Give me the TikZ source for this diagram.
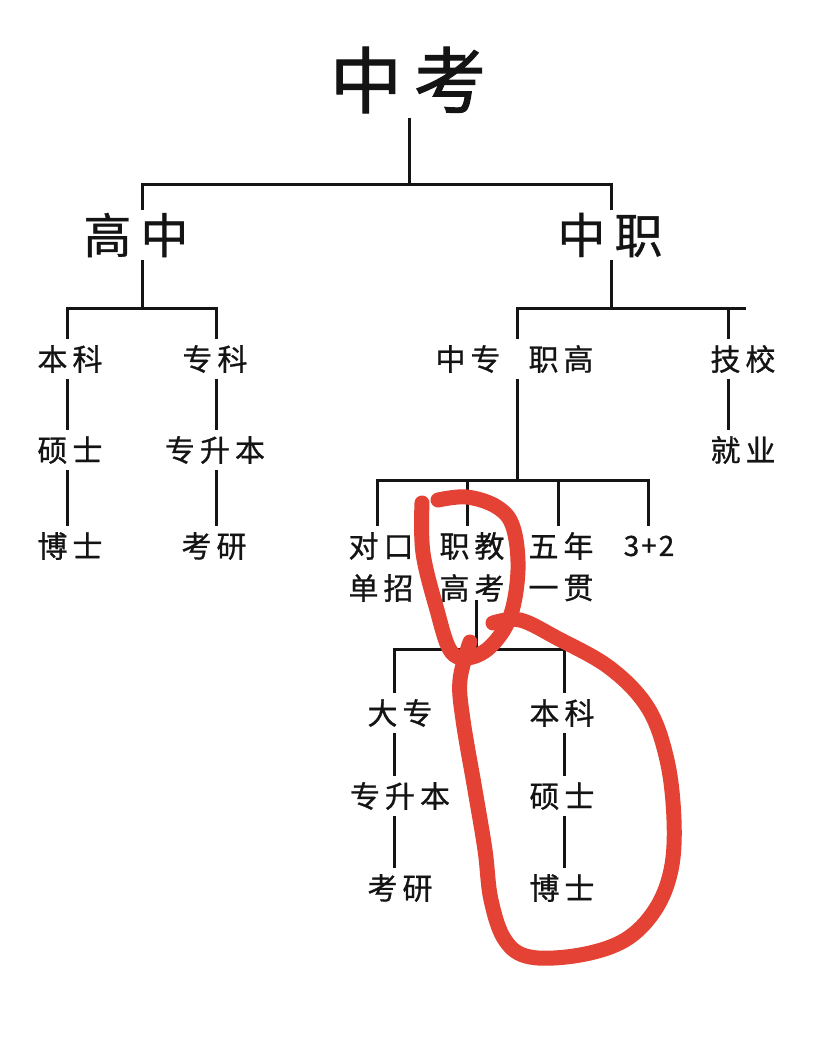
\documentclass[tikz,border=0pt]{standalone}
\usepackage{fontspec}
\newfontfamily\cjk[FakeBold=0.8]{Noto Sans CJK SC}
\newfontfamily\cjkb[FakeBold=1.5]{Noto Sans CJK SC}
\newcommand\gp{\hspace{5pt}}
\definecolor{ink}{HTML}{141414}
\definecolor{redpen}{HTML}{E34234}
\tikzset{x=1pt,y=-1pt,
  lbl/.style={inner sep=0pt,text=ink,minimum height=40pt,font=\cjk\fontsize{30}{30}\selectfont},
  big/.style={inner sep=0pt,text=ink,minimum height=50pt,font=\cjk\fontsize{48}{48}\selectfont},
  huge/.style={inner sep=0pt,text=ink,minimum height=64pt,font=\cjkb\fontsize{72}{72}\selectfont},
  wire/.style={draw=ink,line width=3pt},
  pen/.style={draw=redpen,line width=15pt,line cap=round,line join=round}}
\begin{document}
\begin{tikzpicture}
\useasboundingbox (0,0) rectangle (828,1046);
\fill[white] (0,0) rectangle (828,1046);
\node[huge] (zk) at (408,80) {中\hspace{12pt}考};
\node[big] (gz) at (136,235) {高\hspace{9pt}中};
\node[big] (zz) at (610,235) {中\hspace{9pt}职};
\node[lbl] (bk) at (70,359) {本\gp 科};
\node[lbl] (zk2) at (215,359) {专\gp 科};
\node[lbl] (zzh) at (468,359) {中\gp 专};
\node[lbl] (zg) at (561,359) {职\gp 高};
\node[lbl] (jx) at (743,359) {技\gp 校};
\node[lbl] (ss) at (70,450) {硕\gp 士};
\node[lbl] (zsb) at (215,450) {专\gp 升\gp 本};
\node[lbl] (jy) at (743,450) {就\gp 业};
\node[lbl] (bs) at (70,546) {博\gp 士};
\node[lbl] (ky) at (214,546) {考\gp 研};
\node[lbl] (dk) at (381,546) {对\gp 口};
\node[lbl] (dz) at (381,588) {单\gp 招};
\node[lbl] (zj) at (472,546) {职\gp 教};
\node[lbl] (gk) at (472,588) {高\gp 考};
\node[lbl] (wn) at (561,546) {五\gp 年};
\node[lbl] (yg) at (561,588) {一\gp 贯};
\node[lbl] (tp) at (649,546) {\fontsize{28}{28}\selectfont 3\hspace{2pt}+\hspace{2pt}2};
\node[lbl] (dz2) at (400,713) {大\gp 专};
\node[lbl] (bk2) at (562,713) {本\gp 科};
\node[lbl] (zsb2) at (400,796) {专\gp 升\gp 本};
\node[lbl] (ss2) at (562,796) {硕\gp 士};
\node[lbl] (ky2) at (400,888) {考\gp 研};
\node[lbl] (bs2) at (562,888) {博\gp 士};
% tree
\coordinate (a1) at (409,184);
\coordinate (a0) at (409,118);
\coordinate (gzt) at (142,184);
\coordinate (zzt) at (611,184);
\draw[wire] (a0) -- (a1);
\draw[wire] (gz.north -| gzt) -- (gzt) -- (zzt) -- (zz.north -| zzt);
\coordinate (g1) at (142,308);
\draw[wire] (g1 |- gz.south) -- (g1);
\coordinate (gl) at (67,308);
\coordinate (gr) at (216,308);
\draw[wire] (gl |- bk.north) -- (gl) -- (gr) -- (gr |- zk2.north);
\coordinate (z1) at (611,308);
\draw[wire] (z1 |- zz.south) -- (z1);
\coordinate (zl) at (517,308);
\coordinate (ze) at (746,308);
\coordinate (zj1) at (728,308);
\draw[wire] (zl |- zg.north) -- (zl) -- (ze);
\draw[wire] (zj1) -- (zj1 |- jx.north);
\draw[wire] (gl |- bk.south) -- (gl |- ss.north);
\draw[wire] (gl |- ss.south) -- (gl |- bs.north);
\draw[wire] (gr |- zk2.south) -- (gr |- zsb.north);
\draw[wire] (gr |- zsb.south) -- (gr |- ky.north);
\draw[wire] (zj1 |- jx.south) -- (zj1 |- jy.north);
\coordinate (m) at (517,480);
\draw[wire] (zl |- zg.south) -- (m);
\coordinate (ml) at (377,480);
\coordinate (mr) at (648,480);
\coordinate (m2) at (467,480);
\coordinate (m3) at (558,480);
\draw[wire] (ml |- dk.north) -- (ml) -- (mr) -- (mr |- tp.north);
\draw[wire] (m2) -- (m2 |- zj.north);
\draw[wire] (m3) -- (m3 |- wn.north);
\coordinate (n0) at (476,600);
\coordinate (n1) at (476,649);
\coordinate (nl) at (394,649);
\coordinate (nr) at (564,649);
\draw[wire] (n0) -- (n1);
\draw[wire] (nl |- dz2.north) -- (nl) -- (nr) -- (nr |- bk2.north);
\draw[wire] (nl |- dz2.south) -- (nl |- zsb2.north);
\draw[wire] (nl |- zsb2.south) -- (nl |- ky2.north);
\draw[wire] (nr |- bk2.south) -- (nr |- ss2.north);
\draw[wire] (nr |- ss2.south) -- (nr |- bs2.north);
% red pen
\draw[pen] plot[smooth,tension=0.6] coordinates {(422,503) (423,553) (437,610) (450,650) (467,658) (490,647) (510,617) (518,570) (513,527) (497,507) (467,497) (438,500)};
\draw[pen] plot[smooth,tension=0.6] coordinates {(493,623) (520,620) (557,638) (610,668) (648,708) (667,760) (674,820) (671,870) (655,910) (625,940) (580,955) (530,957) (505,940) (491,900) (485,850) (475,790) (463,720) (460,680) (470,642)};
\end{tikzpicture}
\end{document}
